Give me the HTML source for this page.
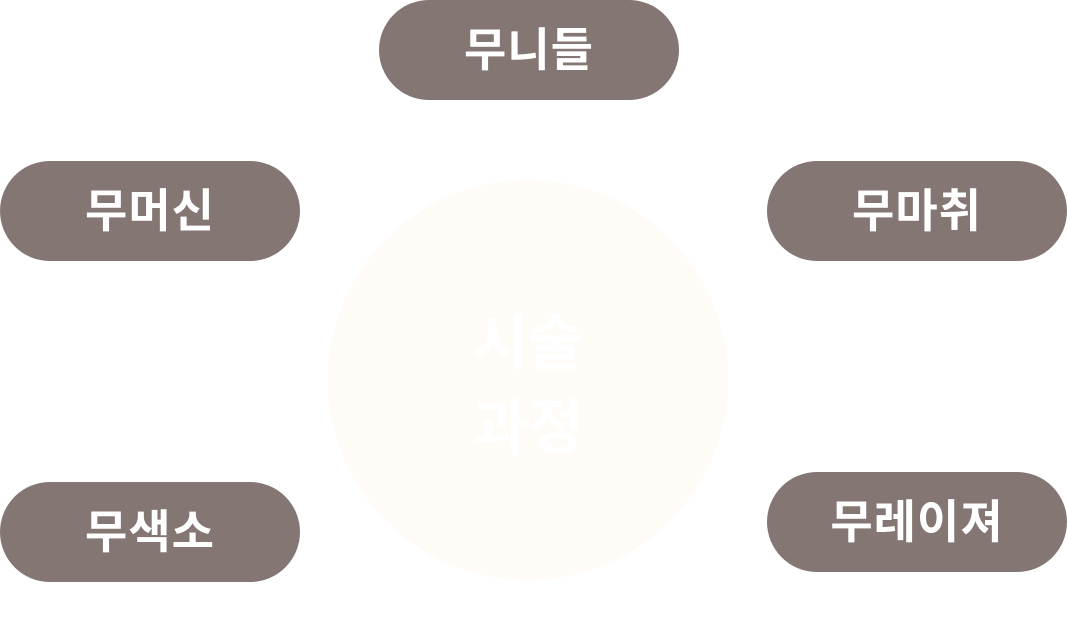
<!DOCTYPE html>
<html><head><meta charset="utf-8"><style>
html,body{margin:0;padding:0;background:#fff;width:1067px;height:632px;overflow:hidden;position:relative;font-family:"Liberation Sans","Noto Sans CJK KR",sans-serif;}
.p{position:absolute;width:300px;height:100px;border-radius:50px;background:#837673;color:#fff;font-weight:700;font-size:46px;display:flex;align-items:center;justify-content:center;letter-spacing:1px;}
.p span{position:relative;top:-3px;}
.c{position:absolute;left:328px;top:180px;width:400px;height:400px;border-radius:50%;background:#fffbf6;color:#fff;font-weight:700;font-size:60px;line-height:84px;display:flex;align-items:center;justify-content:center;text-align:center;}
.c div{position:relative;top:6px;}
</style></head><body>
<div class="c"><div>시술<br>과정</div></div>
<div class="p" style="left:379px;top:0"><span>무니들</span></div>
<div class="p" style="left:0;top:161px"><span>무머신</span></div>
<div class="p" style="left:767px;top:161px"><span>무마취</span></div>
<div class="p" style="left:0;top:482px"><span>무색소</span></div>
<div class="p" style="left:767px;top:472px"><span>무레이져</span></div>
</body></html>
